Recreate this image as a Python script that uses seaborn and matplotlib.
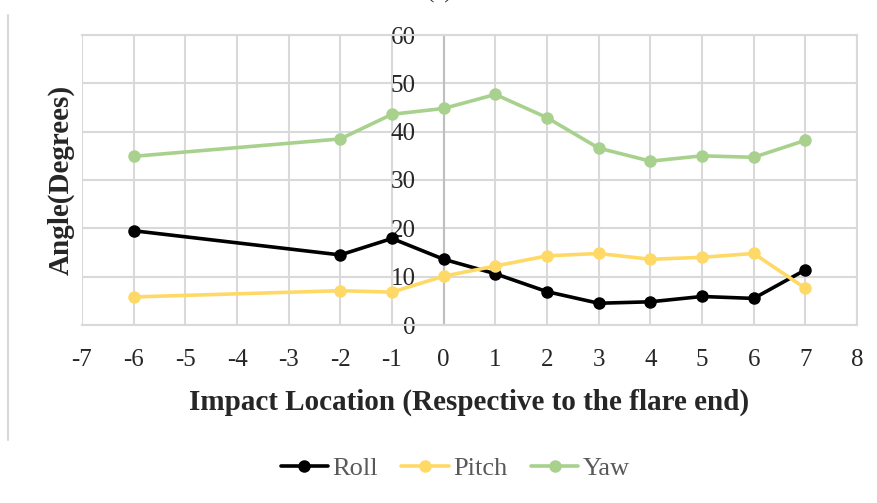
import numpy as np
import pandas as pd
import seaborn as sns
import matplotlib.pyplot as plt
from matplotlib.lines import Line2D

#
# DATA
#

location = [-6, -2, -1, 0, 1, 2, 3, 4, 5, 6, 7]
roll = [19.5, 14.5, 17.9, 13.6, 10.6, 6.9, 4.5, 4.8, 5.9, 5.5, 11.4]
pitch = [5.8, 7.1, 6.8, 10.1, 12.2, 14.3, 14.8, 13.6, 14.0, 14.8, 7.6]
yaw = [34.9, 38.5, 43.6, 44.8, 47.7, 42.9, 36.6, 33.9, 35.0, 34.7, 38.2]

series = ["Roll", "Pitch", "Yaw"]
colors = {"Roll": "#000000", "Pitch": "#FFD966", "Yaw": "#A9D18E"}

xticks = list(range(-7, 9))
yticks = [0, 10, 20, 30, 40, 50, 60]

#
# GLOBAL
#

sns.set_style("white")
plt.rcParams["font.family"] = ["Liberation Serif", "DejaVu Serif"]
grid_col = "#d9d9d9"

df = pd.DataFrame({"Roll": roll, "Pitch": pitch, "Yaw": yaw}, index=location)

#
# PLOT
#

f = plt.figure(figsize=(8.78, 5.03), dpi=100)
ax = f.add_axes([82 / 878, 1 - 325 / 503, 775 / 878, 290 / 503])

for name in series:
    sns.lineplot(x=df.index, y=df[name], ax=ax, color=colors[name], label=name,
                 linewidth=2.6, marker="o", markersize=9, markeredgewidth=0,
                 zorder=3)

ax.set_xlim(-7, 8)
ax.set_ylim(0, 60)
ax.set_xticks(xticks)
ax.set_xticklabels([str(t) for t in xticks])
ax.set_yticks(yticks)
ax.tick_params(length=0, labelsize=18)
ax.tick_params(axis="x", pad=17)
ax.tick_params(axis="y", pad=20)
for t in ax.get_yticklabels():
    t.set_zorder(5)

ax.grid(True, color=grid_col, linewidth=1.5)
ax.set_axisbelow(True)
for s in ["top", "right", "bottom"]:
    ax.spines[s].set_color(grid_col)
    ax.spines[s].set_linewidth(1.5)
ax.spines["left"].set_position(("data", 0))
ax.spines["left"].set_color("#bfbfbf")
ax.spines["left"].set_linewidth(1.5)

ax.set_xlabel("Impact Location (Respective to the flare end)",
              fontsize=21, fontweight="bold", labelpad=13)
ax.set_ylabel("Angle(Degrees)", fontsize=21, fontweight="bold")
ax.yaxis.set_label_coords(-0.009, 0.5)

handles, labels = ax.get_legend_handles_labels()
ax.get_legend().remove()
leg = f.legend(handles, labels, loc="center", ncol=3, frameon=False,
               bbox_to_anchor=(455 / 878, 1 - 468 / 503), fontsize=19,
               handlelength=1.8, columnspacing=0.9, handletextpad=0.15)
for t in leg.get_texts():
    t.set_color("#595959")

# chart frame edge and cut-off panel title
f.add_artist(Line2D([8 / 878, 8 / 878], [1 - 15 / 503, 1 - 440 / 503],
                    color=grid_col, linewidth=1.5, transform=f.transFigure))
f.text(0.5, 1.012, "(c)", ha="center", va="center", fontsize=16)

f.savefig("out.png", dpi=100)
